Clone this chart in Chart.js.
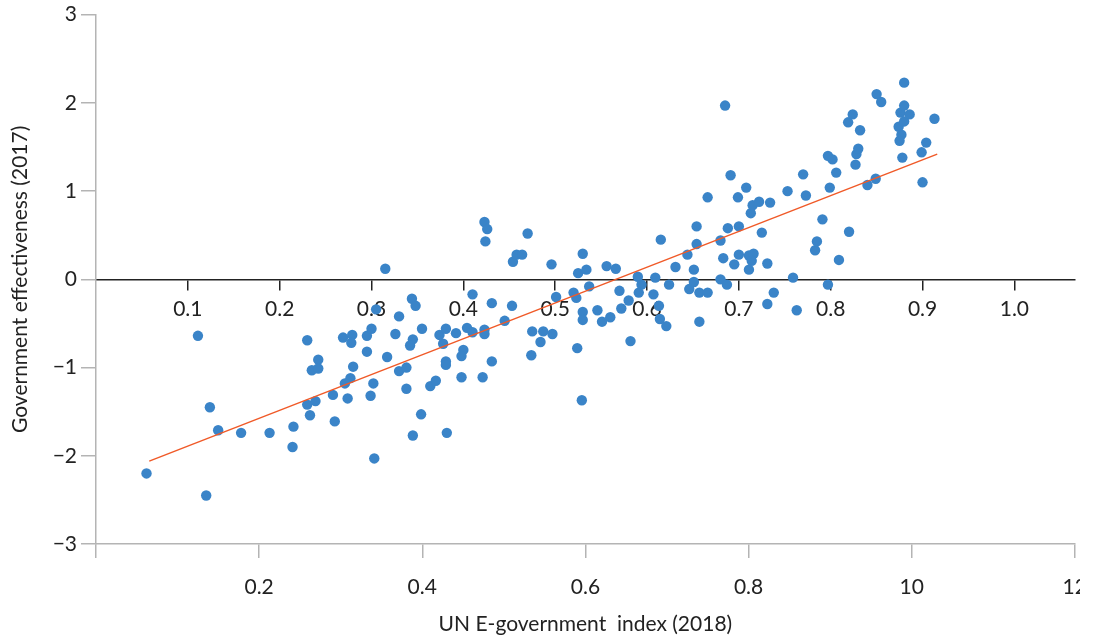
<!DOCTYPE html>
<html>
<head>
<meta charset="utf-8">
<title>E-government and government effectiveness</title>
<script src="https://cdn.jsdelivr.net/npm/chart.js@4/dist/chart.umd.min.js"></script>
<style>
  html, body { margin: 0; background: #fff; }
  #wrap { width: 1080px; height: 638px; position: relative; }
</style>
</head>
<body>
<div id="wrap"><canvas id="chart"></canvas></div>
<script>
// UN E-government development index (2018), one entry per country
const egovIndex = [
  0.055, 0.111, 0.120, 0.124, 0.133, 0.158, 0.189, 0.215, 0.214, 0.230,
  0.242, 0.235, 0.242, 0.230, 0.239, 0.233, 0.258, 0.260, 0.269, 0.279,
  0.278, 0.280, 0.277, 0.271, 0.274, 0.295, 0.300, 0.305, 0.295, 0.302,
  0.299, 0.303, 0.315, 0.317, 0.326, 0.330, 0.330, 0.338, 0.338, 0.344,
  0.348, 0.345, 0.342, 0.354, 0.345, 0.355, 0.364, 0.370, 0.374, 0.381,
  0.378, 0.392, 0.381, 0.381, 0.382, 0.398, 0.400, 0.398, 0.404, 0.410,
  0.410, 0.423, 0.423, 0.421, 0.431, 0.431, 0.423, 0.426, 0.424, 0.445,
  0.453, 0.454, 0.458, 0.464, 0.470, 0.475, 0.487, 0.497, 0.484, 0.474,
  0.496, 0.501, 0.520, 0.523, 0.524, 0.529, 0.530, 0.525, 0.534, 0.530,
  0.530, 0.537, 0.546, 0.551, 0.560, 0.556, 0.566, 0.570, 0.572, 0.580,
  0.582, 0.590, 0.594, 0.591, 0.607, 0.609, 0.613, 0.614, 0.621, 0.615,
  0.624, 0.631, 0.644, 0.646, 0.651, 0.651, 0.654, 0.654, 0.657, 0.657,
  0.666, 0.666, 0.680, 0.680, 0.683, 0.687, 0.685, 0.688, 0.691, 0.695,
  0.699, 0.700, 0.700, 0.708, 0.711, 0.716, 0.714, 0.711, 0.713, 0.715,
  0.722, 0.725, 0.731, 0.731, 0.734, 0.738, 0.753, 0.759, 0.763, 0.770,
  0.773, 0.783, 0.785, 0.791, 0.797, 0.797, 0.802, 0.799, 0.806, 0.809,
  0.819, 0.824, 0.820, 0.827, 0.828, 0.830, 0.832, 0.840, 0.849, 0.850,
  0.855, 0.874, 0.877, 0.875, 0.876, 0.880, 0.880, 0.880, 0.886, 0.878,
  0.899, 0.904, 0.900, 0.913
];

// Government effectiveness estimate (2017), same country order
const govEffectiveness = [
  -2.20, -0.64, -2.45, -1.45, -1.71, -1.74, -1.74, -1.67, -1.90, -0.69,
  -0.91, -1.03, -1.01, -1.42, -1.38, -1.54, -1.31, -1.61, -0.66, -0.63,
  -0.72, -0.99, -1.12, -1.18, -1.35, -0.64, -0.56, -0.34, -0.82, -1.18,
  -1.32, -2.03,  0.12, -0.88, -0.62, -0.42, -1.04, -1.00, -1.24, -0.22,
  -0.30, -0.68, -0.75, -1.53, -1.77, -0.56, -1.21, -1.15, -0.63, -0.56,
  -0.73, -0.61, -0.93, -0.97, -1.74, -1.11, -0.80, -0.87, -0.55, -0.60,
  -0.17, -0.57, -0.62, -1.11, -0.93, -0.27,  0.65,  0.57,  0.43, -0.47,
  -0.30,  0.20,  0.28,  0.28,  0.52, -0.59, -0.59, -0.62, -0.71, -0.86,
   0.17, -0.20, -0.15, -0.21, -0.78, -1.37,  0.29,  0.07,  0.11, -0.37,
  -0.46, -0.08, -0.35, -0.48, -0.43,  0.15,  0.12, -0.13, -0.33, -0.24,
  -0.70,  0.03, -0.06, -0.15, -0.17,  0.02, -0.30, -0.45, -0.53,  0.45,
  -0.06,  0.14,  0.28, -0.11,  0.11, -0.03,  0.60,  0.40, -0.15, -0.48,
  -0.15,  0.93,  0.44,  0.00,  0.24, -0.06,  1.97,  0.58,  1.18,  0.17,
   0.93,  0.60,  0.28,  1.04,  0.27,  0.29,  0.21,  0.11,  0.75,  0.84,
   0.88,  0.53,  0.18, -0.28,  0.87, -0.15,  1.00,  0.02, -0.35,  1.19,
   0.95,  0.33,  0.43,  0.68, -0.06,  1.40,  1.36,  1.04,  1.21,  0.22,
   1.78,  1.87,  0.54,  1.30,  1.42,  1.48,  1.69,  1.07,  1.14,  2.10,
   2.01,  1.73,  1.64,  1.57,  1.89,  1.97,  2.23,  1.79,  1.87,  1.38,
   1.44,  1.55,  1.10,  1.82
];

// least-squares fit line, end points
const fitX = [0.058, 0.916];
const fitY = [-2.06, 1.42];

// axis ticks
const zeroAxisTicks = [0.1, 0.2, 0.3, 0.4, 0.5, 0.6, 0.7, 0.8, 0.9, 1.0];
const zeroAxisLabels = ['0.1', '0.2', '0.3', '0.4', '0.5', '0.6', '0.7', '0.8', '0.9', '1.0'];
const bottomTicks = [0, 0.2, 0.4, 0.6, 0.8, 1.0, 1.2];
const bottomTickLabels = ['', '0.2', '0.4', '0.6', '0.8', '10', '12'];
const yTicks = [-3, -2, -1, 0, 1, 2, 3];

const INK = '#222222';
const AXIS_GREY = '#b4b4b4';
const DOT = '#3a84c8';
const FIT = '#f05a28';
const FONT = { family: 'Lato', size: 21 };

Chart.defaults.font.family = 'Lato';

function dropPadding(scale) {
    scale.paddingLeft = 0;
    scale.paddingRight = 0;
    scale.paddingTop = 0;
    scale.paddingBottom = 0;
}

const points = egovIndex.map((x, i) => ({ x, y: govEffectiveness[i] }));
const fitLine = fitX.map((x, i) => ({ x, y: fitY[i] }));

new Chart(document.getElementById('chart'), {
    type: 'scatter',
    data: {
        datasets: [
            {
                type: 'line',
                data: fitLine,
                borderColor: FIT,
                borderWidth: 1.5,
                pointRadius: 0,
                fill: false,
                order: 0
            },
            {
                data: points,
                backgroundColor: DOT,
                borderWidth: 0,
                pointRadius: 5.2,
                pointHoverRadius: 5.2,
                order: 1
            }
        ]
    },
    options: {
        animation: false,
        responsive: true,
        maintainAspectRatio: false,
        layout: { padding: { top: 14.7, right: 3.5, bottom: 0, left: 0 } },
        plugins: { legend: { display: false }, tooltip: { enabled: false } },
        scales: {
            // index axis drawn across the y = 0 line
            x: {
                type: 'linear',
                position: { y: 0 },
                min: 0,
                max: 1.0658,
                afterBuildTicks: (s) => { s.ticks = zeroAxisTicks.map(v => ({ value: v })); },
                afterFit: dropPadding,
                ticks: {
                    autoSkip: false,
                    maxRotation: 0,
                    padding: 7,
                    color: INK,
                    font: FONT,
                    callback: (v, i) => zeroAxisLabels[i]
                },
                grid: { drawOnChartArea: false, tickLength: 10, color: INK, lineWidth: 1.5 },
                border: { color: INK, width: 1.5 }
            },
            // second index axis along the bottom
            x2: {
                type: 'linear',
                position: 'bottom',
                min: 0,
                max: 1.2,
                afterBuildTicks: (s) => { s.ticks = bottomTicks.map(v => ({ value: v })); },
                afterFit: (s) => { dropPadding(s); s.height = 94; },
                ticks: {
                    autoSkip: false,
                    maxRotation: 0,
                    padding: 17,
                    color: INK,
                    font: FONT,
                    callback: (v, i) => bottomTickLabels[i]
                },
                grid: { drawOnChartArea: false, tickLength: 14, color: AXIS_GREY, lineWidth: 1.5 },
                border: { color: AXIS_GREY, width: 1.5 },
                title: {
                    display: true,
                    text: 'UN E-government  index (2018)',
                    color: INK,
                    font: FONT,
                    padding: { top: 0, bottom: 1.5 }
                }
            },
            y: {
                type: 'linear',
                position: 'left',
                min: -3,
                max: 3,
                afterBuildTicks: (s) => { s.ticks = yTicks.map(v => ({ value: v })); },
                afterFit: (s) => { dropPadding(s); s.width = 96; },
                ticks: {
                    padding: 4,
                    color: INK,
                    font: FONT,
                    callback: (v) => String(v).replace('-', '\u2212')
                },
                grid: { drawOnChartArea: false, tickLength: 15, color: AXIS_GREY, lineWidth: 1.5 },
                border: { color: AXIS_GREY, width: 1.5 },
                title: {
                    display: true,
                    text: 'Government effectiveness (2017)',
                    color: INK,
                    font: FONT,
                    padding: { top: 8, bottom: 0 }
                }
            }
        }
    }
});
</script>
</body>
</html>
